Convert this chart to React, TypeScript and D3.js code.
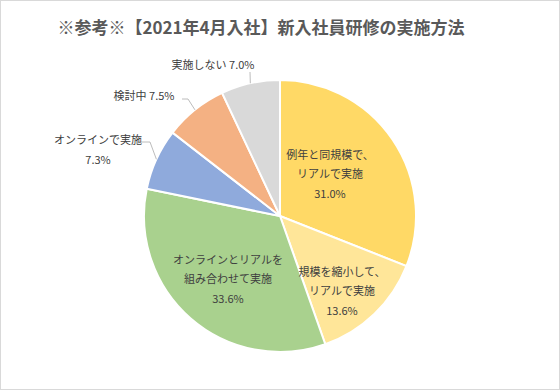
import { useEffect } from "react";
import * as d3 from "d3";

const TITLE = "※参考※【2021年4月入社】新入社員研修の実施方法";

const categories = [
  ["例年と同規模で、", "リアルで実施"],
  ["規模を縮小して、", "リアルで実施"],
  ["オンラインとリアルを", "組み合わせて実施"],
  ["オンラインで実施"],
  ["検討中"],
  ["実施しない"],
];
const values = [31.0, 13.6, 33.6, 7.3, 7.5, 7.0];
const colors = ["#FFD966", "#FFE699", "#A9D18E", "#8FAADC", "#F4B183", "#D9D9D9"];

// label placement relative to pie centre (Excel-style manual positions)
// inline: percent appended after the name; else on its own line
const labelStyle = [
  { dx: 50, dy: -43, inline: false, leader: null },
  { dx: 62, dy: 74, inline: false, leader: null },
  { dx: -52, dy: 62, inline: false, leader: null },
  { dx: -182, dy: -67, inline: false, leader: { ex: -130, ey: -74, tx: -142 } },
  { dx: -136, dy: -121, inline: true, leader: { ex: -92, ey: -117, tx: -98 } },
  { dx: -67, dy: -152, inline: true, leader: { ex: -30, ey: -144, tx: null } },
];

const W = 560;
const H = 390;
const cx = 280;
const cy = 216;
const R = 136;
const FONT = "'Noto Sans CJK JP', 'Noto Sans', sans-serif";

export default function App() {
  useEffect(() => {
    document.body.style.margin = "0";
  }, []);

  const pie = d3
    .pie<number>()
    .sort(null)
    .value((d) => d);
  const arcs = pie(values);
  const arc = d3.arc<d3.PieArcDatum<number>>().innerRadius(0).outerRadius(R);
  const edge = d3.arc<d3.PieArcDatum<number>>().innerRadius(R).outerRadius(R);
  const lineH = 19.5;

  return (
    <svg width={W} height={H} style={{ display: "block" }}>
      <rect x={0.5} y={0.5} width={W - 1} height={H - 1} fill="#fff" stroke="#D9D9D9" />
      <text
        x={261}
        y={26}
        textAnchor="middle"
        dominantBaseline="central"
        fontFamily={FONT}
        fontSize={17}
        fontWeight="bold"
        fill="#595959"
      >
        {TITLE}
      </text>
      <g transform={`translate(${cx},${cy})`}>
        {arcs.map((a, i) => (
          <path key={i} d={arc(a) ?? ""} fill={colors[i]} stroke="#fff" strokeWidth={2} />
        ))}
        {arcs.map((a, i) => {
          const st = labelStyle[i];
          if (!st.leader) return null;
          const [px, py] = edge.centroid(a);
          const pts: [number, number][] = [
            [px, py],
            [st.leader.ex, st.leader.ey],
          ];
          if (st.leader.tx !== null) pts.push([st.leader.tx, st.leader.ey]);
          return (
            <path
              key={"l" + i}
              d={d3.line()(pts) ?? ""}
              fill="none"
              stroke="#A6A6A6"
              strokeWidth={0.75}
            />
          );
        })}
        {arcs.map((a, i) => {
          const st = labelStyle[i];
          const pct = `${values[i].toFixed(1)}%`;
          const lines = st.inline
            ? [`${categories[i].join("")} ${pct}`]
            : [...categories[i], pct];
          const y0 = st.dy - ((lines.length - 1) * lineH) / 2;
          return (
            <text
              key={"t" + i}
              textAnchor="middle"
              fontFamily={FONT}
              fontSize={11}
              fill="#404040"
            >
              {lines.map((t, j) => (
                <tspan key={j} x={st.dx} y={y0 + j * lineH} dominantBaseline="central">
                  {t}
                </tspan>
              ))}
            </text>
          );
        })}
      </g>
    </svg>
  );
}
